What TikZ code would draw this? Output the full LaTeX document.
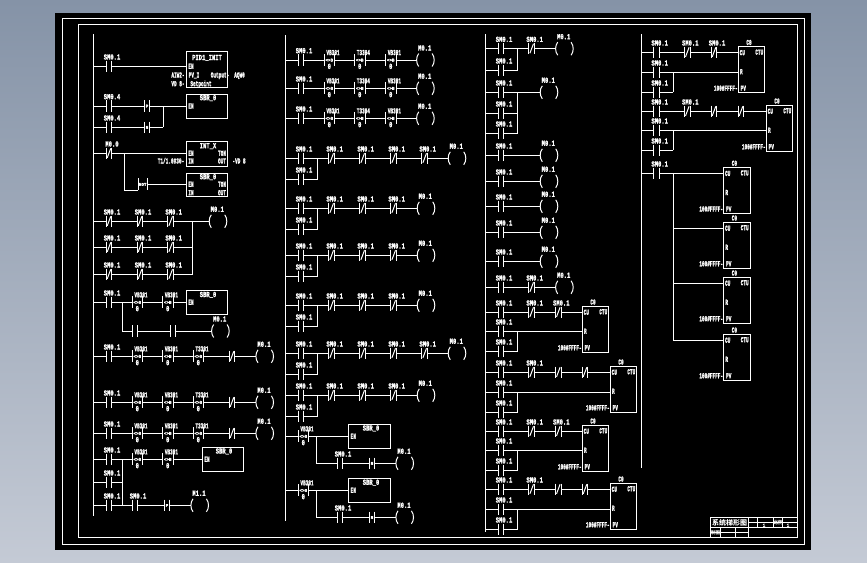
\documentclass[tikz,border=0pt]{standalone}
\usepackage{fontspec}
\setmainfont{Liberation Mono}[BoldFeatures={FakeBold=1.6}]
\newfontfamily\cjk{Noto Sans CJK SC}
\definecolor{bgtop}{HTML}{8593A7}
\definecolor{bgbot}{HTML}{C4CAD5}
\newcount\ec
\newcommand\newid{\global\advance\ec by 1\relax}
\tikzset{
 wire/.style={draw=white,line width=1pt},
 contact/.style={fill=black,draw=none,inner sep=0pt,minimum width=5.2pt,minimum height=11pt},
 cmpbox/.style={fill=black,draw=none,inner sep=0pt,minimum width=10.2pt,minimum height=11.5pt},
 coilbox/.style={draw=none,inner sep=0pt,minimum size=1pt},
 pou/.style={draw=white,line width=1pt,inner sep=0pt,fill=black},
 lab/.style={text=white,inner sep=0pt,text height=5pt,text depth=0pt,font=\bfseries\fontsize{5.5}{6}\selectfont},
 tiny/.style={text=white,inner sep=0pt,text height=3pt,text depth=0pt,font=\bfseries\fontsize{4.2}{4.5}\selectfont},
 cjklab/.style={text=white,inner sep=0pt,font=\cjk\bfseries\fontsize{7}{8}\selectfont},
}
\newcommand\lab[3]{\newid\node[lab] (e\the\ec) at (#1,#2) {\scalebox{1}[1.4]{#3}};}
\newcommand\labn[3]{\newid\node[lab] (e\the\ec) at (#1,#2) {\scalebox{.8}[1.4]{#3}};}
\newcommand\elnb[3]{\newid\node[contact] (e\the\ec) at (#1,#2) {};
 \draw[wire] (e\the\ec.north west) -- (e\the\ec.south west) (e\the\ec.north east) -- (e\the\ec.south east);}
\newcommand\elno[3]{\elnb{#1}{#2}{}\lab{#1+3}{#2-9.3}{#3}}
\newcommand\elnx[3]{\elnb{#1}{#2}{}\draw[wire] (#1-1.8,#2+4.5) -- (#1+1.8,#2-5);}
\newcommand\elnc[3]{\elnx{#1}{#2}{}\lab{#1+3}{#2-9.3}{#3}}
\newcommand\elp[3]{\elnb{#1}{#2}{}\node[tiny] (e\the\ec x) at (#1,#2) {P};}
\newcommand\eln[3]{\elnb{#1}{#2}{}\node[tiny] (e\the\ec x) at (#1,#2) {N};}
\newcommand\elcmp[3]{\newid\node[cmpbox] (e\the\ec) at (#1,#2) {};
 \draw[wire] (e\the\ec.north west) -- (e\the\ec.south west) (e\the\ec.north east) -- (e\the\ec.south east);
 \node[tiny] (e\the\ec x) at (#1,#2) {<>B};
 \labn{#1+3.7}{#2-7.4}{#3}\lab{#1}{#2+6.4}{0}}
\newcommand\elcoil[3]{\newid\node[coilbox] (e\the\ec) at (#1+8.7,#2) {};
 \draw[wire] (#1+2,#2-6.5) .. controls (#1-.8,#2-3) and (#1-.8,#2+3) .. (#1+2,#2+6.5);
 \draw[wire] (#1+15.4,#2-6.5) .. controls (#1+18.2,#2-3) and (#1+18.2,#2+3) .. (#1+15.4,#2+6.5);
 \lab{#1+8}{#2-12}{#3}}
\newcommand\rung[4]{\newid\coordinate (a\the\ec) at (#2,#1);\coordinate (b\the\ec) at (#3,#1);
 \draw[wire] (a\the\ec) -- (b\the\ec);
 \foreach \k/\x/\t in {#4} {\csname el\k\endcsname{\x}{#1}{\t}}}
\newcommand\branch[3]{\newid\coordinate (a\the\ec) at (#1,#2);\coordinate (b\the\ec) at (#1,#3);
 \draw[wire] (a\the\ec) -- (b\the\ec);}
\newcommand\pou[4]{\newid\node[pou,minimum width={(#3-(#1))*1pt},minimum height={(#4-(#2))*1pt}] (e\the\ec) at ({(#1+#3)/2},{(#2+#4)/2}) {};}
\newcommand\ctu[3]{\pou{#1}{#2}{#1+26.6}{#2+46}
 \labn{#1+10.7}{#2-4.2}{#3}\labn{#1+4}{#2+6}{CU}\labn{#1+21}{#2+5.5}{CTU}
 \labn{#1+3}{#2+25}{R}\labn{#1+5}{#2+41.5}{PV}\labn{#1-12.5}{#2+41.5}{100\#FFFF-}}
\begin{document}
\begin{tikzpicture}[x=1pt,y=-1pt]
\useasboundingbox (0,0) rectangle (867,562);
\fill[top color=bgtop,bottom color=bgbot,draw=none] (0,0) rectangle (867,562);
\fill[black] (55,13) rectangle (811,549.5);
\draw[wire] (62,18) rectangle (804,544);
\draw[wire] (78,24) rectangle (797,537);
%% ---------- column 1
\branch{93.3}{34}{516}
\pou{186}{51.3}{227.7}{87.3}
\lab{207}{57.5}{PID1\_INIT}\labn{191}{66.3}{EN}
\labn{178}{75}{AIW2-}\labn{194}{75}{PV\_I}\labn{178}{83.7}{VD 8-}\labn{201}{83.7}{Setpoint}
\labn{220}{75}{Output-}\labn{239.5}{75}{AQW0}
\rung{66.3}{93.3}{186}{no/109/SM0.1}
\pou{186}{94.3}{227.7}{118.7}
\lab{208}{97.7}{SBR\_0}\labn{191}{106}{EN}
\rung{106}{93.3}{186}{no/109/SM0.4,p/147/P}
\rung{127.3}{93.3}{163.3}{no/109/SM0.4,n/147/N}
\branch{163.3}{106}{127.3}
\pou{186}{141.7}{227.7}{166}
\lab{208}{145.7}{INT\_X}\labn{191}{153.3}{EN}\labn{191}{161}{IN}\labn{222}{153.3}{TON}\labn{222}{161}{OUT}
\labn{171}{161}{T1/1.0\#30-}\labn{239}{161}{-VD 8}
\rung{153.3}{93.3}{186}{nc/109/M0.0}
\pou{186}{173.3}{227.7}{196.7}
\lab{208}{176.7}{SBR\_0}\labn{191}{184.3}{EN}\labn{191}{192.7}{IN}\labn{222}{184.3}{TON}\labn{222}{192.7}{OUT}
\branch{124.3}{153.3}{190.3}
\rung{190.3}{124.3}{138.3}{}
\rung{184.3}{147}{186}{}
\node[cmpbox,minimum width=9pt] (notc) at (142.7,184.3) {};
\draw[wire] (notc.north west) -- (notc.south west) (notc.north east) -- (notc.south east);
\node[tiny] (nott) at (142.7,184.3) {NOT};
%
\rung{221.3}{93.3}{209.3}{nc/109/SM0.1,nc/140/SM0.1,nc/170.7/SM0.1,coil/209.3/M0.1}
\rung{247.3}{93.3}{192.7}{nc/109/SM0.1,nc/140/SM0.1,nc/170.7/SM0.1}
\rung{274.3}{93.3}{192.7}{nc/109/SM0.1,nc/140/SM0.1,nc/170.7/SM0.1}
\branch{192.7}{221.3}{274.3}
\pou{186}{290.3}{227.7}{314.7}
\lab{208}{294.5}{SBR\_0}\labn{191}{302.3}{EN}
\rung{302.3}{93.3}{186}{no/109/SM0.1,cmp/137.3/VB301,cmp/167.7/VB301}
\branch{122.3}{302.3}{331}
\rung{331}{122.3}{211.7}{nb/135/,nb/173/,coil/211.7/M0.1}
\rung{356.3}{93.3}{256}{no/109/SM0.1,cmp/137.3/VB301,cmp/167.7/VB301,cmp/198.3/T3301,nx/232/,coil/256/M0.1}
\rung{402.3}{93.3}{256}{no/109/SM0.1,cmp/137.3/VB301,cmp/167.7/VB301,cmp/198.3/T3301,nx/232/,coil/256/M0.1}
\rung{433.3}{93.3}{256}{no/109/SM0.1,cmp/137.3/VB301,cmp/167.7/VB301,cmp/198.3/T3301,nx/232/,coil/256/M0.1}
\pou{202.3}{447.3}{243.7}{471.7}
\lab{224}{451}{SBR\_0}\labn{207}{459.3}{EN}
\rung{459.3}{93.3}{202.3}{no/109/SM0.1,cmp/137.3/VB301,cmp/167.7/VB301}
\rung{482.3}{93.3}{122.3}{no/109/SM0.1}
\rung{505.3}{93.3}{191}{no/109/SM0.1,no/135/SM0.1,p/167/P,coil/191/M1.1}
\branch{122.3}{459.3}{505.3}
%% ---------- column 2
\branch{285.3}{35}{521}
\rung{60}{285.3}{416.7}{no/301/SM0.1,cmp/329.3/VB301,cmp/359.7/T3304,cmp/390.7/VB301,coil/416.7/M0.1}
\rung{88.3}{285.3}{416.7}{no/301/SM0.1,cmp/329.3/VB301,cmp/359.7/T3304,cmp/390.7/VB301,coil/416.7/M0.1}
\rung{118.3}{285.3}{416.7}{no/301/SM0.1,cmp/329.3/VB301,cmp/359.7/T3304,cmp/390.7/VB301,coil/416.7/M0.1}
\rung{158.3}{285.3}{448.3}{no/301/SM0.1,nc/331.7/SM0.1,nc/362.7/SM0.1,nc/393.7/SM0.1,nc/424.7/SM0.1,coil/448.3/M0.1}
\rung{179.3}{285.3}{317.7}{no/301/SM0.1}
\branch{317.7}{158.3}{179.3}
\rung{208.3}{285.3}{417.3}{no/301/SM0.1,nc/331.7/SM0.1,nc/362.7/SM0.1,nc/393.7/SM0.1,coil/417.3/M0.1}
\rung{229.3}{285.3}{317.7}{no/301/SM0.1}
\branch{317.7}{208.3}{229.3}
\rung{255.3}{285.3}{417.3}{no/301/SM0.1,nc/331.7/SM0.1,nc/362.7/SM0.1,nc/393.7/SM0.1,coil/417.3/M0.1}
\rung{276.3}{285.3}{317.7}{no/301/SM0.1}
\branch{317.7}{255.3}{276.3}
\rung{305.3}{285.3}{417.3}{no/301/SM0.1,nc/331.7/SM0.1,nc/362.7/SM0.1,nc/393.7/SM0.1,coil/417.3/M0.1}
\rung{326.3}{285.3}{317.7}{no/301/SM0.1}
\branch{317.7}{305.3}{326.3}
\rung{353.3}{285.3}{448.3}{no/301/SM0.1,nc/331.7/SM0.1,nc/362.7/SM0.1,nc/393.7/SM0.1,nc/424.7/SM0.1,coil/448.3/M0.1}
\rung{374.3}{285.3}{317.7}{no/301/SM0.1}
\branch{317.7}{353.3}{374.3}
\rung{395.3}{285.3}{417.3}{no/301/SM0.1,nc/331.7/SM0.1,nc/362.7/SM0.1,nc/393.7/SM0.1,coil/417.3/M0.1}
\rung{416.3}{285.3}{317.7}{no/301/SM0.1}
\branch{317.7}{395.3}{416.3}
\pou{348.3}{424}{390.7}{448.7}
\lab{371}{428}{SBR\_0}\labn{353.3}{436.3}{EN}
\rung{436.3}{285.3}{348.3}{cmp/303.3/VB301}
\branch{316.3}{436.3}{463.3}
\rung{463.3}{316.3}{396}{no/340/SM0.1,n/372/N,coil/396/M0.1}
\pou{348.3}{478.3}{390.7}{502.7}
\lab{371}{482.3}{SBR\_0}\labn{353.3}{490.3}{EN}
\rung{490.3}{285.3}{348.3}{cmp/303.3/VB301}
\branch{316.3}{490.3}{517.3}
\rung{517.3}{316.3}{396}{no/340/SM0.1,n/372/N,coil/396/M0.1}
%% ---------- column 3
\branch{485.3}{34}{532}
\rung{48.7}{485.3}{555.7}{no/501/SM0.1,nc/531.7/SM0.1,coil/555.7/M0.1}
\rung{70.3}{485.3}{517.7}{no/501/SM0.1}
\branch{517.7}{48.7}{70.3}
\rung{92.3}{485.3}{540.3}{no/501/SM0.1,coil/540.3/M0.1}
\rung{113.3}{485.3}{517.7}{no/501/SM0.1}
\rung{133.3}{485.3}{517.7}{no/501/SM0.1}
\branch{517.7}{92.3}{133.3}
\rung{155.3}{485.3}{540.3}{no/501/SM0.1,coil/540.3/M0.1}
\rung{181.3}{485.3}{540.3}{no/501/SM0.1,coil/540.3/M0.1}
\rung{206.3}{485.3}{540.3}{no/501/SM0.1,coil/540.3/M0.1}
\rung{232.3}{485.3}{540.3}{no/501/SM0.1,coil/540.3/M0.1}
\rung{261.3}{485.3}{540.3}{no/501/SM0.1,coil/540.3/M0.1}
\rung{287.3}{485.3}{555.7}{no/501/SM0.1,nc/531.7/SM0.1,coil/555.7/M0.1}
%
\ctu{582.3}{306.3}{C0}
\rung{312.3}{485.3}{582.3}{no/501/SM0.1,nc/531.7/SM0.1,nc/558.3/SM0.1}
\rung{331.3}{485.3}{582.3}{no/501/SM0.1}
\rung{351.3}{485.3}{517.7}{no/501/SM0.1}
\branch{517.7}{331.3}{351.3}
\ctu{610.3}{366.3}{C0}
\rung{372.3}{485.3}{610.3}{no/501/SM0.1,nc/531.7/SM0.1,nx/558.3/,nx/585/}
\rung{392.3}{485.3}{610.3}{no/501/SM0.1}
\rung{412.3}{485.3}{517.7}{no/501/SM0.1}
\branch{517.7}{392.3}{412.3}
\ctu{582.3}{425.3}{C0}
\rung{431.3}{485.3}{582.3}{no/501/SM0.1,nc/531.7/SM0.1,nc/558.3/SM0.1}
\rung{450.3}{485.3}{582.3}{no/501/SM0.1}
\rung{470.3}{485.3}{517.7}{no/501/SM0.1}
\branch{517.7}{450.3}{470.3}
\ctu{610.3}{483.3}{C0}
\rung{489.3}{485.3}{610.3}{no/501/SM0.1,nc/531.7/SM0.1,nx/558.3/,nx/585/}
\rung{509.3}{485.3}{610.3}{no/501/SM0.1}
\rung{529.3}{485.3}{517.7}{no/501/SM0.1}
\branch{517.7}{509.3}{529.3}
%% ---------- column 4
\branch{641.5}{34}{468}
\ctu{738.3}{46.7}{C0}
\rung{52.3}{641.5}{738.3}{no/656.7/SM0.1,nc/687.3/SM0.1,nc/714/SM0.1}
\rung{72.3}{641.5}{738.3}{no/656.7/SM0.1}
\rung{92.3}{641.5}{673.3}{no/656.7/SM0.1}
\branch{673.3}{72.3}{92.3}
\ctu{766.3}{105.3}{C0}
\rung{111.3}{641.5}{766.3}{no/656.7/SM0.1,nc/687.3/SM0.1,nx/714/,nx/741/}
\rung{130.3}{641.5}{766.3}{no/656.7/SM0.1}
\rung{150.3}{641.5}{673.3}{no/656.7/SM0.1}
\branch{673.3}{130.3}{150.3}
\ctu{723.7}{167.5}{C0}
\ctu{723.7}{222.3}{C0}
\ctu{723.7}{277.3}{C0}
\ctu{723.7}{334.3}{C0}
\rung{173.3}{641.5}{723.7}{no/656.7/SM0.1}
\branch{673.3}{173.3}{340.3}
\rung{228.3}{673.3}{723.7}{}
\rung{283.3}{673.3}{723.7}{}
\rung{340.3}{673.3}{723.7}{}
%% ---------- title block
\draw[wire] (710.7,517.3) rectangle (797,537.3);
\draw[wire] (748.3,522.3) -- (797,522.3);
\draw[wire] (710.7,527.7) -- (797,527.7);
\draw[wire] (710.7,532.3) -- (748.3,532.3);
\draw[wire] (748.3,517.3) -- (748.3,537.3);
\draw[wire] (720.7,527.7) -- (720.7,537.3);
\draw[wire] (735,527.7) -- (735,537.3);
\draw[wire] (757.3,517.3) -- (757.3,527.7);
\draw[wire] (773.3,517.3) -- (773.3,527.7);
\draw[wire] (782.7,517.3) -- (782.7,527.7);
\node[cjklab] (ttl) at (729.5,522.5) {系统梯形图};
\node[cjklab,font=\cjk\bfseries\fontsize{5}{6}\selectfont] (rat) at (778,522.5) {比例};
\node[cjklab,font=\cjk\bfseries\fontsize{4.5}{5}\selectfont] (drw) at (715.7,532.5) {制图};
\node[tiny] (r1) at (764,525) {1};
\node[tiny] (r2) at (788,525) {1};
\end{tikzpicture}
\end{document}
